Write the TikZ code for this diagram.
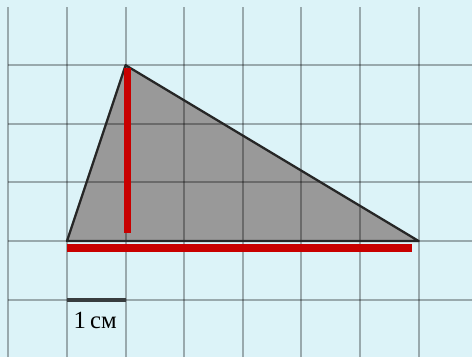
\documentclass[tikz,border=0pt]{standalone}
\usepackage{fontspec}
\setmainfont{Liberation Serif}
\usepackage{tikz}
\usetikzlibrary{positioning,calc}
\usepackage{xcolor}
\definecolor{paperblue}{RGB}{220,243,248}
\definecolor{trigrey}{RGB}{153,153,153}
\definecolor{heightred}{RGB}{200,0,0}
\definecolor{scalegrey}{RGB}{55,60,62}

\begin{document}
\begin{tikzpicture}[every node/.style={font=\fontsize{12}{14}\selectfont}]
\useasboundingbox (-1.143,-1.980) rectangle (6.911,4.113);
\fill[paperblue] (-1.143,-1.980) rectangle (6.911,4.113);
\coordinate (a) at (0,0);
\coordinate (b) at (1,3);
\coordinate (c) at (6,0);
\fill[trigrey] (a) -- (b) -- (c) -- cycle;
\foreach \x in {-1,...,6} \draw[black, opacity=0.3, line width=1pt] (\x,-1.980) -- (\x,4);
\foreach \y in {-1,...,3} \draw[black, opacity=0.3, line width=1pt] (-1,\y) -- (6.911,\y);
\draw[black!85, line width=1.1pt, line join=round] (a) -- (b) -- (c) -- cycle;
\coordinate (h1) at (1.03,2.95);
\coordinate (h2) at (1.03,0.14);
\coordinate (s1) at (0,-0.12);
\coordinate (s2) at (5.88,-0.12);
\draw[heightred, line width=3.4pt] (h1) -- (h2);
\draw[heightred, line width=3.6pt] (s1) -- (s2);
\coordinate (u1) at (0,-1);
\coordinate (u2) at (1,-1);
\draw[scalegrey, line width=2pt] (u1) -- (u2);
\node[anchor=base, inner sep=0pt] (unit) at (0.48,-1.485) {1\,см};
\end{tikzpicture}
\end{document}
